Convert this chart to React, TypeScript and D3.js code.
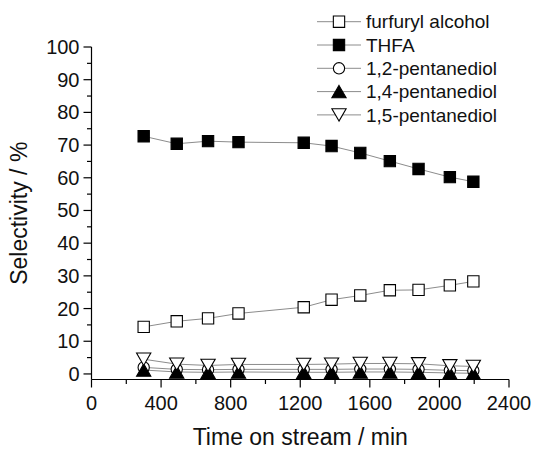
import React, { useEffect, useRef } from "react";
import * as d3 from "d3";

const times = [300, 490, 670, 845, 1220, 1380, 1545, 1715, 1880, 2060, 2195];

const furfurylAlcohol = [14.4, 16.1, 17.0, 18.5, 20.4, 22.7, 24.0, 25.6, 25.7, 27.1, 28.3];
const thfa = [72.7, 70.4, 71.2, 70.9, 70.7, 69.7, 67.6, 65.1, 62.7, 60.2, 58.8];
const pentanediol12 = [2.0, 1.4, 1.3, 1.4, 1.4, 1.4, 1.5, 1.5, 1.4, 1.1, 1.0];
const pentanediol14 = [1.2, 0.6, 0.5, 0.6, 0.5, 0.5, 0.6, 0.6, 0.5, 0.3, 0.2];
const pentanediol15 = [4.5, 3.0, 2.6, 2.9, 2.9, 3.0, 3.2, 3.2, 3.1, 2.5, 2.3];

const seriesNames = ["furfuryl alcohol", "THFA", "1,2-pentanediol", "1,4-pentanediol", "1,5-pentanediol"];
const seriesValues = [furfurylAlcohol, thfa, pentanediol12, pentanediol14, pentanediol15];
const seriesMarkers = ["square", "square", "circle", "triangle", "triangleDown"];
const seriesFilled = [false, true, false, true, false];

const xTicks = [0, 400, 800, 1200, 1600, 2000, 2400];
const yTicks = [0, 10, 20, 30, 40, 50, 60, 70, 80, 90, 100];

const FONT = "'Liberation Sans', Arial, Helvetica, sans-serif";

const App = () => {
  const ref = useRef<SVGSVGElement | null>(null);

  useEffect(() => {
    if (!ref.current) return;
    const svg = d3.select(ref.current);
    svg.selectAll("*").remove();

    const left = 91.5;
    const right = 509;
    const top = 47;
    const bottom = 379.5;

    const x = d3.scaleLinear().domain([0, 2400]).range([left, right]);
    const y = d3.scaleLinear().domain([-1.7, 100]).range([bottom, top]);

    const lineColor = "#8c8c8c";
    const triSize = 88;

    // marker shape
    const markerPath = (kind: string) => {
      if (kind === "square") return d3.symbol().type(d3.symbolSquare).size(128)();
      if (kind === "circle") return d3.symbol().type(d3.symbolCircle).size(100)();
      return d3.symbol().type(d3.symbolTriangle).size(triSize)();
    };
    const triH = Math.sqrt(triSize / (Math.sqrt(3) * 3)) * 3;
    const markerTransform = (kind: string, px: number, py: number) => {
      if (kind === "triangle") return `translate(${px},${py + triH / 6})`;
      if (kind === "triangleDown") return `translate(${px},${py - triH / 6}) rotate(180)`;
      return `translate(${px},${py})`;
    };

    // axes
    const gx = svg.append("g").attr("transform", `translate(0,${bottom})`);
    gx.append("line").attr("x1", left).attr("x2", right).attr("stroke", "#000").attr("stroke-width", 1.2);
    d3.range(0, 2401, 200).forEach((v) => {
      const major = v % 400 === 0;
      gx.append("line")
        .attr("x1", x(v)).attr("x2", x(v))
        .attr("y1", 0).attr("y2", major ? 8 : 4.5)
        .attr("stroke", "#000").attr("stroke-width", 1.2);
    });
    xTicks.forEach((v) => {
      gx.append("text")
        .attr("x", x(v)).attr("y", 30)
        .attr("text-anchor", "middle")
        .style("font-family", FONT).style("font-size", "20px")
        .attr("fill", "#111")
        .text(v);
    });

    const gy = svg.append("g").attr("transform", `translate(${left},0)`);
    gy.append("line").attr("y1", top).attr("y2", bottom).attr("stroke", "#000").attr("stroke-width", 1.2);
    d3.range(0, 101, 5).forEach((v) => {
      const major = v % 10 === 0;
      gy.append("line")
        .attr("y1", y(v)).attr("y2", y(v))
        .attr("x1", 0).attr("x2", major ? -8 : -4.5)
        .attr("stroke", "#000").attr("stroke-width", 1.2);
    });
    yTicks.forEach((v) => {
      gy.append("text")
        .attr("x", -12).attr("y", y(v))
        .attr("dy", "0.35em")
        .attr("text-anchor", "end")
        .style("font-family", FONT).style("font-size", "20px")
        .attr("fill", "#111")
        .text(v);
    });

    svg.append("text")
      .attr("x", (left + right) / 2).attr("y", 445)
      .attr("text-anchor", "middle")
      .style("font-family", FONT).style("font-size", "23px")
      .attr("fill", "#111")
      .text("Time on stream / min");

    svg.append("text")
      .attr("transform", `translate(27,${(top + bottom) / 2}) rotate(-90)`)
      .attr("text-anchor", "middle")
      .style("font-family", FONT).style("font-size", "23px")
      .attr("fill", "#111")
      .text("Selectivity / %");

    // lines first, then markers on top
    const line = d3.line<number>().x((d, i) => x(times[i])).y((d) => y(d));
    seriesValues.forEach((vals) => {
      svg.append("path")
        .attr("d", line(vals))
        .attr("fill", "none")
        .attr("stroke", lineColor)
        .attr("stroke-width", 1);
    });

    seriesValues.forEach((vals, si) => {
      const kind = seriesMarkers[si];
      svg.append("g")
        .selectAll("path")
        .data(vals)
        .join("path")
        .attr("d", markerPath(kind))
        .attr("transform", (d, i) => markerTransform(kind, x(times[i]), y(d)))
        .attr("fill", seriesFilled[si] ? "#000" : "#fff")
        .attr("stroke", "#000")
        .attr("stroke-width", 1.1);
    });

    // legend
    const legend = svg.append("g");
    seriesNames.forEach((name, i) => {
      const ly = 21.7 + i * 23.3;
      const kind = seriesMarkers[i];
      legend.append("line")
        .attr("x1", 317).attr("x2", 361)
        .attr("y1", ly).attr("y2", ly)
        .attr("stroke", lineColor).attr("stroke-width", 1);
      legend.append("path")
        .attr("d", markerPath(kind))
        .attr("transform", markerTransform(kind, 339, ly))
        .attr("fill", seriesFilled[i] ? "#000" : "#fff")
        .attr("stroke", "#000")
        .attr("stroke-width", 1.1);
      legend.append("text")
        .attr("x", 366).attr("y", ly)
        .attr("dy", "0.35em")
        .style("font-family", FONT).style("font-size", "19px")
        .attr("fill", "#111")
        .text(name);
    });
  }, []);

  return (
    <svg
      ref={ref}
      width={534}
      height={449}
      style={{ position: "absolute", left: 0, top: 0, background: "#fff" }}
    />
  );
};

export default App;
